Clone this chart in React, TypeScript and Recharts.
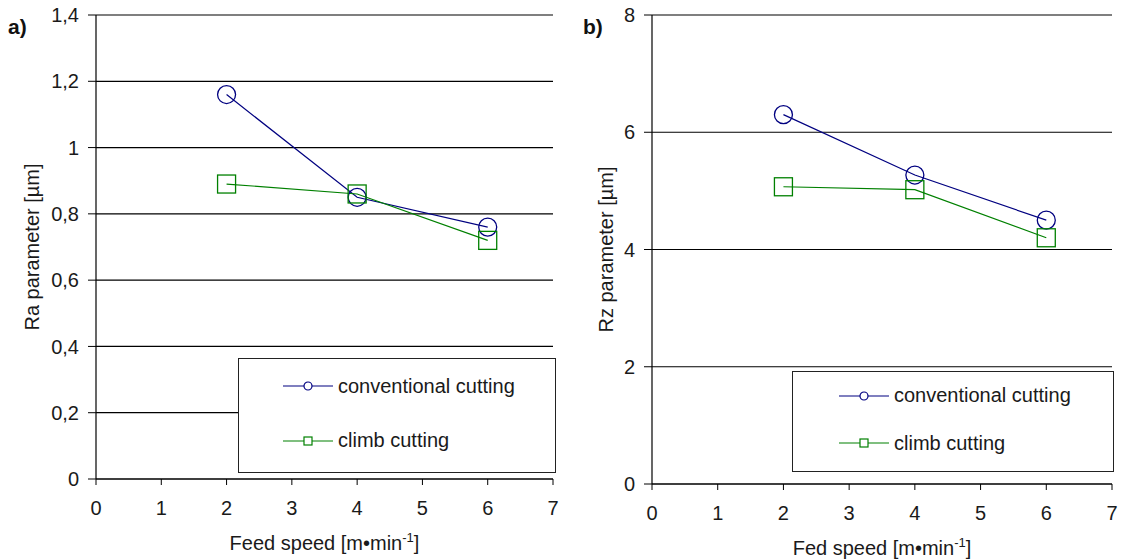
import { LineChart, Line, XAxis, YAxis, CartesianGrid, Legend } from 'recharts'

// feed speed [m/min]
const feedSpeed = [2, 4, 6]

// a) Ra parameter [µm]
const raConventional = [1.16, 0.85, 0.76]
const raClimb = [0.89, 0.86, 0.72]

// b) Rz parameter [µm]
const rzConventional = [6.3, 5.27, 4.5]
const rzClimb = [5.07, 5.02, 4.2]

const xTicks = [0, 1, 2, 3, 4, 5, 6, 7]
const raTicks = [0, 0.2, 0.4, 0.6, 0.8, 1, 1.2, 1.4]
const rzTicks = [0, 2, 4, 6, 8]

const BLUE = '#000080'
const GREEN = '#008000'
const FONT = '"Liberation Sans", Arial, sans-serif'
const TEXT = '#1a1a1a'

const raData = feedSpeed.map((s, i) => ({ speed: s, conventional: raConventional[i], climb: raClimb[i] }))
const rzData = feedSpeed.map((s, i) => ({ speed: s, conventional: rzConventional[i], climb: rzClimb[i] }))

const fmt = (v: number) => String(v).replace('.', ',')

const CircleDot = (props: any) => {
  const { cx, cy } = props
  if (cx == null || cy == null) return null
  return <circle cx={cx} cy={cy} r={9} fill="none" stroke={BLUE} strokeWidth={1.3} />
}

const SquareDot = (props: any) => {
  const { cx, cy } = props
  if (cx == null || cy == null) return null
  return <rect x={cx - 9} y={cy - 9} width={18} height={18} fill="none" stroke={GREEN} strokeWidth={1.3} />
}

const legendOrder = ['conventional', 'climb']

const legendBox = (iconLeft: number) => (props: any) => {
  const payload = [...(props.payload || [])].sort(
    (a: any, b: any) => legendOrder.indexOf(a.dataKey) - legendOrder.indexOf(b.dataKey)
  )
  return (
    <div style={{
      width: '100%', height: '100%', boxSizing: 'border-box', border: '1.5px solid #222',
      background: '#fff', display: 'flex', flexDirection: 'column', justifyContent: 'space-around',
      paddingBottom: 4, paddingLeft: iconLeft
    }}>
      {payload.map((entry: any, i: number) => (
        <div key={i} style={{ display: 'flex', alignItems: 'center', height: 22 }}>
          <svg width={50} height={14} style={{ marginRight: 5 }}>
            <line x1={0} y1={7} x2={50} y2={7} stroke={entry.color} strokeWidth={1.2} />
            {entry.dataKey === 'conventional'
              ? <circle cx={25} cy={7} r={4} fill="#fff" stroke={entry.color} strokeWidth={1.2} />
              : <rect x={21} y={3} width={8} height={8} fill="#fff" stroke={entry.color} strokeWidth={1.2} />}
          </svg>
          <span style={{ fontSize: 20, color: TEXT, fontFamily: FONT }}>{entry.value}</span>
        </div>
      ))}
    </div>
  )
}

const xTitle = (text: string) => (props: any) => {
  const vb = props.viewBox || {}
  const cx = (vb.x || 0) + (vb.width || 0) / 2
  const y = (vb.y || 0) + 71
  return (
    <text x={cx} y={y} textAnchor="middle" fontSize={20} fill={TEXT} fontFamily={FONT}>
      {text}
      <tspan fontSize={13} dy={-8}>-1</tspan>
      <tspan dy={8}>]</tspan>
    </text>
  )
}

const yTitle = (text: string, offsetX: number) => (props: any) => {
  const vb = props.viewBox || {}
  const x = (vb.x || 0) + offsetX
  const y = (vb.y || 0) + (vb.height || 0) / 2
  return (
    <text x={x} y={y} transform={`rotate(-90 ${x} ${y})`} textAnchor="middle" dominantBaseline="central"
      fontSize={20} fill={TEXT} fontFamily={FONT}>
      {text}
    </text>
  )
}

const tickStyle = { fontSize: 20, fill: TEXT, fontFamily: FONT }

export default function App() {
  return (
    <div style={{ position: 'absolute', left: 0, top: 0, width: 1122, height: 560, background: '#fff', fontFamily: FONT }}>
      <div style={{ position: 'absolute', left: 8, top: 15, fontSize: 21, fontWeight: 'bold', color: '#111' }}>a)</div>
      <div style={{ position: 'absolute', left: 583, top: 15, fontSize: 21, fontWeight: 'bold', color: '#111' }}>b)</div>

      <div style={{ position: 'absolute', left: 0, top: 0 }}>
        <LineChart width={560} height={560} data={raData} margin={{ top: 15, right: 7, bottom: 21, left: 0 }}>
          <CartesianGrid vertical={false} stroke="#000" strokeWidth={1.2} />
          <XAxis dataKey="speed" type="number" domain={[0, 7]} ticks={xTicks} height={60}
            axisLine={{ stroke: '#000', strokeWidth: 1.2 }} tickLine={{ stroke: '#000' }} tickSize={6} tickMargin={16}
            tick={tickStyle} label={{ content: xTitle('Feed speed [m•min') }} />
          <YAxis type="number" domain={[0, 1.4]} ticks={raTicks} width={96} tickFormatter={fmt}
            axisLine={{ stroke: '#000', strokeWidth: 1.2 }} tickLine={{ stroke: '#000' }} tickSize={8} tickMargin={9}
            tick={tickStyle} label={{ content: yTitle('Ra parameter [µm]', 32) }} />
          <Line dataKey="conventional" name="conventional cutting" stroke={BLUE} strokeWidth={1.2}
            dot={CircleDot} activeDot={false} isAnimationActive={false} />
          <Line dataKey="climb" name="climb cutting" stroke={GREEN} strokeWidth={1.2}
            dot={SquareDot} activeDot={false} isAnimationActive={false} />
          <Legend layout="vertical" align="center" verticalAlign="middle" content={legendBox(44)}
            wrapperStyle={{ left: 238, top: 358, width: 318, height: 115 }} />
        </LineChart>
      </div>

      <div style={{ position: 'absolute', left: 560, top: 0 }}>
        <LineChart width={562} height={560} data={rzData} margin={{ top: 15, right: 10, bottom: 16, left: 0 }}>
          <CartesianGrid vertical={false} stroke="#000" strokeWidth={1.2} />
          <XAxis dataKey="speed" type="number" domain={[0, 7]} ticks={xTicks} height={60}
            axisLine={{ stroke: '#000', strokeWidth: 1.2 }} tickLine={{ stroke: '#000' }} tickSize={6} tickMargin={16}
            tick={tickStyle} label={{ content: xTitle('Fed speed [m•min') }} />
          <YAxis type="number" domain={[0, 8]} ticks={rzTicks} width={92}
            axisLine={{ stroke: '#000', strokeWidth: 1.2 }} tickLine={{ stroke: '#000' }} tickSize={8} tickMargin={9}
            tick={tickStyle} label={{ content: yTitle('Rz parameter [µm]', 46) }} />
          <Line dataKey="conventional" name="conventional cutting" stroke={BLUE} strokeWidth={1.2}
            dot={CircleDot} activeDot={false} isAnimationActive={false} />
          <Line dataKey="climb" name="climb cutting" stroke={GREEN} strokeWidth={1.2}
            dot={SquareDot} activeDot={false} isAnimationActive={false} />
          <Legend layout="vertical" align="center" verticalAlign="middle" content={legendBox(46)}
            wrapperStyle={{ left: 232, top: 371, width: 322, height: 101 }} />
        </LineChart>
      </div>
    </div>
  )
}
